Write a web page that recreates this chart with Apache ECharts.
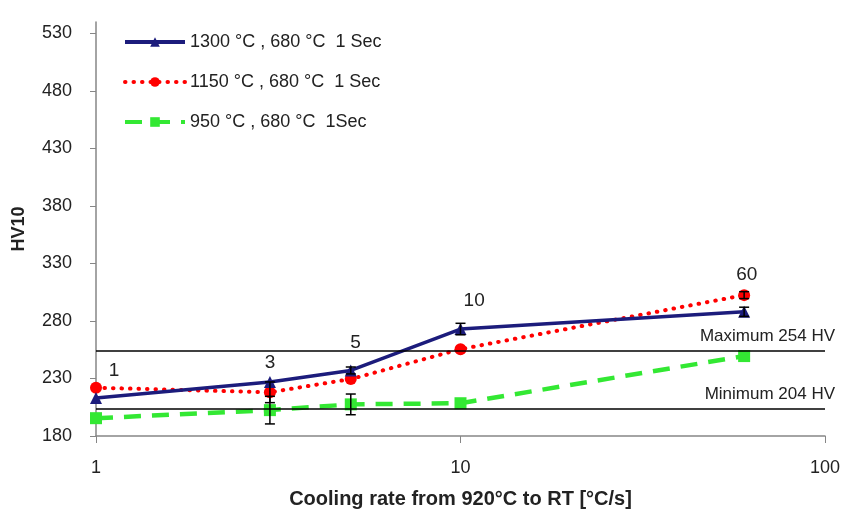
<!DOCTYPE html>
<html>
<head>
	<meta charset="utf-8">
	<title>HV10 vs cooling rate</title>
	<script src="https://cdn.jsdelivr.net/npm/echarts@6/dist/echarts.min.js"></script>
</head>
<body style="margin:0">
	<div id="main" style="width: 843px;height: 515px;"></div>
</body>
<script type="text/javascript">
	// cooling rates [°C/s]
	var rates = [1, 3, 5, 10, 60];
	// hardness HV10
	var hv1300 = [213, 227, 237, 273, 288];
	var hv1150 = [222, 218, 229.5, 255.5, 302.5];
	var hv950 = [195.5, 202.5, 207.5, 208.5, 249.5];
	// error bars (+/-)
	var err1300 = [0, 0, 3, 5, 4];
	var err1150 = [0, 9, 0, 0, 3];
	var err950 = [0, 12, 9, 0, 0];
	// limits
	var maxHV = 254;
	var minHV = 204;
	// rate annotations: text, x, y (data units)
	var annotText = ['1', '3', '5', '10', '60'];
	var annotX = [1.12, 3, 5.15, 10.9, 61];
	var annotY = [237, 244, 261, 298, 320];
	var yTicks = [180, 230, 280, 330, 380, 430, 480, 530];

	var font = 'Liberation Sans';
	var myChart = echarts.init(document.getElementById('main'));

	function pairs(ys) {
		return rates.map(function (r, i) { return [r, ys[i]]; });
	}
	function errData(ys, es) {
		var out = [];
		rates.forEach(function (r, i) {
			if (es[i] > 0) out.push([r, ys[i] - es[i], ys[i] + es[i]]);
		});
		return out;
	}
	function errSeries(ys, es) {
		return {
			type: 'custom',
			z: 5,
			silent: true,
			data: errData(ys, es),
			renderItem: function (params, api) {
				var lo = api.coord([api.value(0), api.value(1)]);
				var hi = api.coord([api.value(0), api.value(2)]);
				var w = 5;
				var st = { stroke: '#000', lineWidth: 1.5 };
				return {
					type: 'group',
					children: [
						{ type: 'line', shape: { x1: lo[0], y1: lo[1], x2: hi[0], y2: hi[1] }, style: st },
						{ type: 'line', shape: { x1: lo[0] - w, y1: lo[1], x2: lo[0] + w, y2: lo[1] }, style: st },
						{ type: 'line', shape: { x1: hi[0] - w, y1: hi[1], x2: hi[0] + w, y2: hi[1] }, style: st }
					]
				};
			}
		};
	}

	var option = {
		animation: false,
		grid: { left: 96, right: 18, top: 22, bottom: 79, outerBoundsMode: 'none' },
		legend: {
			orient: 'vertical',
			left: 118,
			top: 27,
			itemWidth: 60,
			itemHeight: 12,
			itemGap: 20,
			selectedMode: false,
			lineStyle: { width: 4 },
			textStyle: { fontFamily: font, fontSize: 18, lineHeight: 20, color: '#222' },
			data: ['1300 °C , 680 °C  1 Sec', '1150 °C , 680 °C  1 Sec', '950 °C , 680 °C  1Sec']
		},
		xAxis: {
			type: 'log',
			logBase: 10,
			min: 1,
			max: 100,
			name: 'Cooling rate from 920°C to RT [°C/s]',
			nameLocation: 'middle',
			nameGap: 53,
			nameTextStyle: { fontFamily: font, fontSize: 20, fontWeight: 'bold', color: '#222' },
			axisLine: { lineStyle: { color: '#868686', width: 1.5 } },
			axisTick: { length: 7, lineStyle: { color: '#868686' } },
			minorTick: { show: false },
			splitLine: { show: false },
			axisLabel: { margin: 23, fontFamily: font, fontSize: 18, color: '#222' }
		},
		yAxis: {
			type: 'value',
			min: 180,
			max: 540,
			interval: 50,
			name: 'HV10',
			nameLocation: 'middle',
			nameRotate: 90,
			nameGap: 68,
			nameTextStyle: { fontFamily: font, fontSize: 18, fontWeight: 'bold', color: '#222' },
			axisLine: { show: true, lineStyle: { color: '#868686', width: 1.5 } },
			axisTick: { show: true, length: 6, customValues: yTicks, lineStyle: { color: '#868686' } },
			splitLine: { show: false },
			axisLabel: { margin: 24, customValues: yTicks, fontFamily: font, fontSize: 18, color: '#222' }
		},
		series: [
			{
				name: '1300 °C , 680 °C  1 Sec',
				type: 'line',
				z: 4,
				data: pairs(hv1300),
				symbol: 'triangle',
				symbolSize: 12,
				itemStyle: { color: '#1c1c7c' },
				lineStyle: { color: '#1c1c7c', width: 3.5 },
				markLine: {
					silent: true,
					symbol: 'none',
					lineStyle: { color: '#000', width: 1.5, type: 'solid' },
					label: {
						position: 'insideEndTop',
						distance: [-10, 6],
						fontFamily: font,
						fontSize: 17,
						color: '#222'
					},
					data: [
						{ yAxis: maxHV, label: { formatter: 'Maximum ' + maxHV + ' HV' } },
						{ yAxis: minHV, label: { formatter: 'Minimum ' + minHV + ' HV' } }
					]
				}
			},
			{
				name: '1150 °C , 680 °C  1 Sec',
				type: 'line',
				z: 3,
				data: pairs(hv1150),
				symbol: 'circle',
				symbolSize: 12,
				itemStyle: { color: '#ff0000' },
				lineStyle: { color: '#ff0000', width: 4, type: [0.5, 8], cap: 'round' }
			},
			{
				name: '950 °C , 680 °C  1Sec',
				type: 'line',
				z: 2,
				data: pairs(hv950),
				symbol: 'rect',
				symbolSize: 12,
				itemStyle: { color: '#33e833' },
				lineStyle: { color: '#33e833', width: 4.5, type: [17, 11] }
			},
			errSeries(hv1300, err1300),
			errSeries(hv1150, err1150),
			errSeries(hv950, err950),
			{
				type: 'scatter',
				silent: true,
				symbolSize: 0,
				itemStyle: { opacity: 1 },
				data: annotX.map(function (x, i) { return { value: [x, annotY[i]], name: annotText[i] }; }),
				label: {
					show: true,
					position: 'inside',
					formatter: '{b}',
					fontFamily: font,
					fontSize: 19,
					color: '#222'
				}
			}
		]
	};
	myChart.setOption(option);
</script>
</html>
